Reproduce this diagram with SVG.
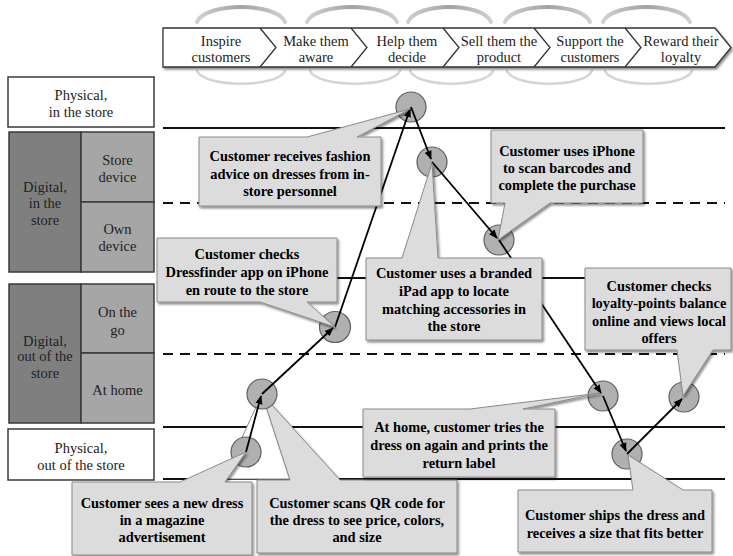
<svg xmlns="http://www.w3.org/2000/svg" width="733" height="556" viewBox="0 0 733 556">
<defs>
  <filter id="shadow" x="-10%" y="-10%" width="130%" height="140%">
    <feDropShadow dx="1.5" dy="2" stdDeviation="1.2" flood-color="#000" flood-opacity="0.45"/>
  </filter>
  <marker id="arrow" viewBox="0 0 10 10" refX="9" refY="5" markerWidth="9" markerHeight="9" markerUnits="userSpaceOnUse" orient="auto">
    <path d="M0,1 L10,5 L0,9 Z" fill="#000"/>
  </marker>
  <linearGradient id="arcGrad" x1="0" y1="0" x2="1" y2="0">
    <stop offset="0" stop-color="#d0d0d0"/>
    <stop offset="0.5" stop-color="#a2a2a2"/>
    <stop offset="1" stop-color="#d0d0d0"/>
  </linearGradient>
</defs>
<style>
  .hdr { fill:#fff; stroke:#333; stroke-width:1.3; filter:url(#shadow); }
  .div { fill:none; stroke:#333; stroke-width:1.3; }
  .arc { fill:none; stroke:url(#arcGrad); stroke-width:4; stroke-linecap:round; }
  .arc-low { fill:none; stroke:#d4d4d4; stroke-width:2.5; stroke-linecap:round; }
  .t { font-family:"Liberation Serif","Times New Roman",serif; font-size:14.5px; fill:#222; text-anchor:middle; }
  .lane-w { fill:#fff; stroke:#3a3a3a; stroke-width:1.5; }
  .lane-d { fill:#7f7f7f; stroke:#3a3a3a; stroke-width:1.5; }
  .lane-l { fill:#a6a6a6; stroke:#3a3a3a; stroke-width:1.5; }
  .solid { stroke:#111; stroke-width:2; }
  .dash { stroke:#111; stroke-width:2; stroke-dasharray:10 7; }
  .dot { fill:#b0b0b0; stroke:#5e5e5e; stroke-width:1.2; }
  .conn { stroke:#000; stroke-width:1.8; fill:none; marker-end:url(#arrow); }
  .co { fill:#dcdcdc; stroke:#8a8a8a; stroke-width:1; filter:url(#shadow); }
  .wedge { fill:#fff; stroke:#8a8a8a; stroke-width:1; }
  .ct { font-family:"Liberation Serif","Times New Roman",serif; font-size:14.4px; font-weight:bold; fill:#000; text-anchor:middle; }
</style>

<!-- Journey stages header -->
<g id="stages">
  <path class="arc" d="M197,22 C205,2 277,2 285,22"/>
  <path class="arc" d="M307,22 C315,2 389,2 397,22"/>
  <path class="arc" d="M408,22 C416,2 483,2 491,22"/>
  <path class="arc" d="M505,22 C513,2 582,2 590,22"/>
  <path class="arc" d="M603,22 C611,2 682,2 690,22"/>
  <path class="arc-low" d="M197,71 C205,88 277,88 285,71"/>
  <path class="arc-low" d="M310,71 C318,88 392,88 400,71"/>
  <path class="arc-low" d="M410,71 C418,88 485,88 493,71"/>
  <path class="arc-low" d="M507,71 C515,88 584,88 592,71"/>
  <path class="arc-low" d="M605,71 C613,88 684,88 692,71"/>
  <path class="hdr" d="M163,28 H715 L731,47.5 L715,67 H163 Z"/>
  <path class="div" d="M260,28 L276,47.5 L260,67 M351,28 L367,47.5 L351,67 M443,28 L459,47.5 L443,67 M534,28 L550,47.5 L534,67 M625,28 L641,47.5 L625,67"/>
  <text class="t"><tspan x="221" y="45.5">Inspire</tspan><tspan x="221" y="61.5">customers</tspan></text>
  <text class="t"><tspan x="316" y="45.5">Make them</tspan><tspan x="316" y="61.5">aware</tspan></text>
  <text class="t"><tspan x="407" y="45.5">Help them</tspan><tspan x="407" y="61.5">decide</tspan></text>
  <text class="t"><tspan x="499" y="45.5">Sell them the</tspan><tspan x="499" y="61.5">product</tspan></text>
  <text class="t"><tspan x="590" y="45.5">Support the</tspan><tspan x="590" y="61.5">customers</tspan></text>
  <text class="t"><tspan x="681" y="45.5">Reward their</tspan><tspan x="681" y="61.5">loyalty</tspan></text>
</g>

<!-- Channel lanes on the left -->
<g id="lane-physical-store">
  <rect class="lane-w" x="8" y="77" width="146" height="50"/>
  <text class="t"><tspan x="81" y="100">Physical,</tspan><tspan x="81" y="117">in the store</tspan></text>
</g>
<g id="lane-digital-store">
  <rect class="lane-d" x="9" y="132" width="72" height="140"/>
  <rect class="lane-l" x="81" y="132" width="73" height="70"/>
  <rect class="lane-l" x="81" y="202" width="73" height="70"/>
  <text class="t"><tspan x="45" y="192">Digital,</tspan><tspan x="45" y="208">in the</tspan><tspan x="45" y="225">store</tspan></text>
  <text class="t"><tspan x="117.5" y="165">Store</tspan><tspan x="117.5" y="182">device</tspan></text>
  <text class="t"><tspan x="117.5" y="234">Own</tspan><tspan x="117.5" y="251">device</tspan></text>
</g>
<g id="lane-digital-out">
  <rect class="lane-d" x="9" y="284" width="72" height="139"/>
  <rect class="lane-l" x="81" y="284" width="73" height="69"/>
  <rect class="lane-l" x="81" y="353" width="73" height="70"/>
  <text class="t"><tspan x="45" y="346">Digital,</tspan><tspan x="45" y="361">out of the</tspan><tspan x="45" y="378">store</tspan></text>
  <text class="t"><tspan x="117.5" y="317">On the</tspan><tspan x="117.5" y="335">go</tspan></text>
  <text class="t"><tspan x="117.5" y="395">At home</tspan></text>
</g>
<g id="lane-physical-out">
  <rect class="lane-w" x="8" y="429" width="146" height="51"/>
  <text class="t"><tspan x="81" y="453">Physical,</tspan><tspan x="81" y="470">out of the store</tspan></text>
</g>

<!-- Lane separators -->
<g id="separators">
  <line class="solid" x1="163" y1="128" x2="725" y2="128"/>
  <line class="dash" x1="163" y1="203" x2="725" y2="203"/>
  <line class="solid" x1="163" y1="278" x2="725" y2="278"/>
  <line class="dash" x1="163" y1="354" x2="725" y2="354"/>
  <line class="solid" x1="163" y1="427" x2="725" y2="427"/>
  <line class="solid" x1="163" y1="479" x2="725" y2="479"/>
</g>

<!-- QR code step callout (sits beneath the touchpoints) -->
<g id="note-qr">
  <path class="wedge" d="M262,394 L223,479 L290,479 Z"/>
  <path class="co" d="M257,480 H290 L262,394 L340,480 H457 V553 H257 Z"/>
  <text class="ct"><tspan x="357" y="508">Customer scans QR code for</tspan><tspan x="357" y="524.5">the dress to see price, colors,</tspan><tspan x="357" y="542">and size</tspan></text>
</g>

<!-- Touchpoints -->
<g id="touchpoints">
  <circle id="tp-magazine" class="dot" cx="246" cy="452" r="15"/>
  <circle id="tp-qr" class="dot" cx="262" cy="394" r="15"/>
  <circle id="tp-dressfinder" class="dot" cx="335" cy="327" r="15.5"/>
  <circle id="tp-advice" class="dot" cx="411" cy="107" r="15"/>
  <circle id="tp-ipad" class="dot" cx="432" cy="162" r="15"/>
  <circle id="tp-scan" class="dot" cx="499" cy="240" r="15"/>
  <circle id="tp-tryon" class="dot" cx="603" cy="396" r="15"/>
  <circle id="tp-ship" class="dot" cx="627" cy="454" r="15"/>
  <circle id="tp-loyalty" class="dot" cx="684" cy="397" r="15"/>
</g>

<!-- Journey connectors -->
<g id="connectors">
  <line class="conn" x1="246" y1="452" x2="261" y2="396"/>
  <line class="conn" x1="262" y1="394" x2="333" y2="328"/>
  <line class="conn" x1="335" y1="327" x2="410" y2="109"/>
  <line class="conn" x1="411" y1="107" x2="431" y2="159"/>
  <line class="conn" x1="432" y1="162" x2="497" y2="238"/>
  <line class="conn" x1="499" y1="240" x2="601" y2="393"/>
  <line class="conn" x1="603" y1="396" x2="626" y2="451"/>
  <line class="conn" x1="627" y1="454" x2="682" y2="399"/>
</g>

<!-- Step callouts -->
<g id="note-advice">
  <path class="co" d="M199,137 H307 L410,109 L357,137 H381 V206 H199 Z"/>
  <text class="ct"><tspan x="290" y="161">Customer receives fashion</tspan><tspan x="290" y="178.5">advice on dresses from in-</tspan><tspan x="290" y="196">store personnel</tspan></text>
</g>
<g id="note-scan">
  <path class="co" d="M491,130 H643 V203 H550 L498,240 L505,203 H491 Z"/>
  <text class="ct"><tspan x="567" y="156">Customer uses iPhone</tspan><tspan x="567" y="173">to scan barcodes and</tspan><tspan x="567" y="190">complete the purchase</tspan></text>
</g>
<g id="note-dressfinder">
  <path class="co" d="M157,238 H337 V302 H307 L335,327 L260,302 H157 Z"/>
  <text class="ct"><tspan x="247" y="259">Customer checks</tspan><tspan x="247" y="277">Dressfinder app on iPhone</tspan><tspan x="247" y="295">en route to the store</tspan></text>
</g>
<g id="note-ipad">
  <path class="co" d="M366,258 H402 L432,163 L438,258 H542 V340 H366 Z"/>
  <text class="ct"><tspan x="454" y="278">Customer uses a branded</tspan><tspan x="454" y="295.5">iPad app to locate</tspan><tspan x="454" y="313.5">matching accessories in</tspan><tspan x="454" y="331">the store</tspan></text>
</g>
<g id="note-loyalty">
  <path class="co" d="M585,268 H731 V350 H713 L683,396 L677,350 H585 Z"/>
  <text class="ct"><tspan x="659" y="291">Customer checks</tspan><tspan x="659" y="308">loyalty-points balance</tspan><tspan x="659" y="326">online and views local</tspan><tspan x="659" y="343">offers</tspan></text>
</g>
<g id="note-tryon">
  <path class="co" d="M363,409 H470 L600,393 L523,409 H555 V477 H363 Z"/>
  <text class="ct"><tspan x="459" y="432">At home, customer tries the</tspan><tspan x="459" y="450">dress on again and prints the</tspan><tspan x="459" y="468">return label</tspan></text>
</g>
<g id="note-magazine">
  <path class="co" d="M72,482 H180 L246,452 L225,482 H252 V555 H72 Z"/>
  <text class="ct"><tspan x="162" y="508">Customer sees a new dress</tspan><tspan x="162" y="524.5">in a magazine</tspan><tspan x="162" y="542">advertisement</tspan></text>
</g>
<g id="note-ship">
  <path class="co" d="M518,490 H633 L628,455 L683,490 H712 V552 H518 Z"/>
  <text class="ct"><tspan x="615" y="520">Customer ships the dress and</tspan><tspan x="615" y="538">receives a size that fits better</tspan></text>
</g>
</svg>
